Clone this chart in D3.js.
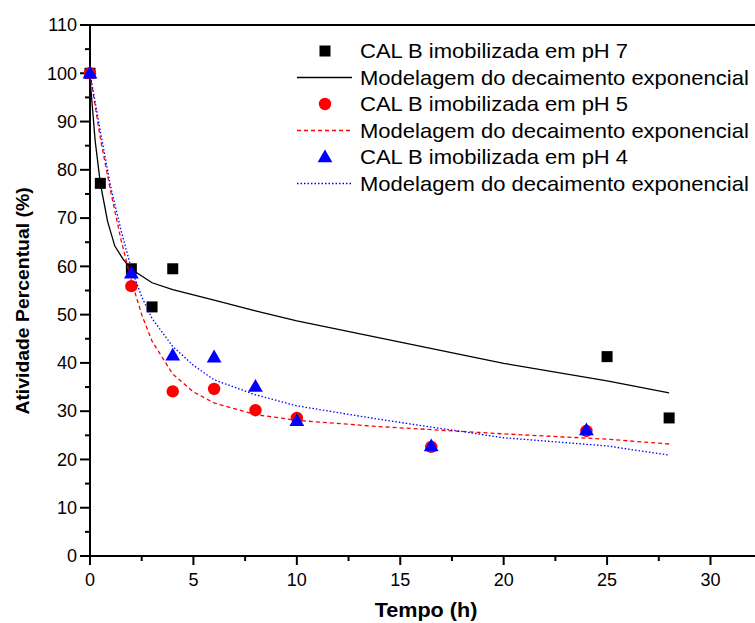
<!DOCTYPE html>
<html><head><meta charset="utf-8">
<script src="https://cdn.jsdelivr.net/npm/d3@7"></script>
<style>body{margin:0;background:#fff}svg{display:block}text{font-family:"Liberation Sans",Arial,sans-serif;fill:#000}</style>
</head><body><svg id="c" width="755" height="623"></svg>
<script>
// Data
const xTicks = [0,5,10,15,20,25,30];
const yTicks = [0,10,20,30,40,50,60,70,80,90,100,110];
const legendLabels = ["CAL B imobilizada em pH 7","Modelagem do decaimento exponencial","CAL B imobilizada em pH 5","Modelagem do decaimento exponencial","CAL B imobilizada em pH 4","Modelagem do decaimento exponencial"];
const ph7X = [0,0.5,2,3,4,25,28];
const ph7Y = [100,77.2,59.5,51.6,59.5,41.3,28.6];
const ph5X = [0,2,4,6,8,10,16.5,24];
const ph5Y = [100,55.9,34.1,34.6,30.2,28.6,22.6,25.9];
const ph4X = [0,2,4,6,8,10,16.5,24];
const ph4Y = [100,58.6,41.6,41.2,35.1,28.0,22.8,26.1];
const fit7X = [0,0.1,0.25,0.5,0.85,1.2,1.6,2,3,4,6,8,10,14,20,25,28];
const fit7Y = [99,93.8,86,77.2,69.3,64.2,61.5,59.4,56.6,55.2,53.0,50.8,48.7,45.2,39.9,36.3,33.8];
const fit5X = [0,0.5,1,1.5,2,2.5,3,4,5,6,8,10,14,20,25,28];
const fit5Y = [100,86.5,75.5,65.5,57,50,44.5,37.7,34,31.7,29.3,28.1,26.8,25.3,24.2,23.2];
const fit4X = [0,0.5,1,1.5,2,2.5,3,4,5,6,8,10,14,20,25,28];
const fit4Y = [100,88,76.5,67.5,59.5,53.7,49.2,43.4,39.5,36.5,33.4,31.1,28.3,24.5,22.8,20.9];

const svg = d3.select("#c");
const x = d3.scaleLinear().domain([0,32.2]).range([90,756]);
const y = d3.scaleLinear().domain([0,110]).range([556,25]);

// top border
svg.append("line").attr("x1",90).attr("x2",755).attr("y1",y(110)).attr("y2",y(110)).attr("stroke","#000").attr("stroke-width",2);

// x axis
const xMinor = d3.range(0,32.5,2.5);
const gx = svg.append("g").attr("transform",`translate(0,${y(0)})`);
gx.append("line").attr("x1",80).attr("x2",755).attr("stroke","#000").attr("stroke-width",2);
gx.selectAll(".mi").data(xMinor).join("line").attr("x1",d=>x(d)).attr("x2",d=>x(d)).attr("y1",0).attr("y2",d=>d%5===0?9:5).attr("stroke","#000").attr("stroke-width",2);
gx.selectAll(".tl").data(xTicks).join("text").attr("x",d=>x(d)).attr("y",30).attr("text-anchor","middle").attr("font-size",18).text(d=>d);

// y axis
const yMinor = d3.range(0,111,5);
const gy = svg.append("g").attr("transform",`translate(${x(0)},0)`);
gy.append("line").attr("y1",y(110)-1).attr("y2",y(0)+9).attr("stroke","#000").attr("stroke-width",2);
gy.selectAll(".mi").data(yMinor).join("line").attr("y1",d=>y(d)).attr("y2",d=>y(d)).attr("x1",0).attr("x2",d=>d%10===0?-10:-5).attr("stroke","#000").attr("stroke-width",2);
gy.selectAll(".tl").data(yTicks).join("text").attr("x",-13).attr("y",d=>y(d)).attr("dy","0.35em").attr("text-anchor","end").attr("font-size",18).text(d=>d);

// titles
svg.append("text").attr("transform","translate(426,617) scale(1.08,1)").attr("text-anchor","middle").attr("font-size",20).attr("font-weight","bold").text("Tempo (h)");
svg.append("text").attr("transform","translate(29,301) rotate(-90) scale(1.02,1)").attr("text-anchor","middle").attr("font-size",19).attr("font-weight","bold").text("Atividade Percentual (%)");

const line = d3.line().x(d=>x(d[0])).y(d=>y(d[1]));
const zip = (a,b)=>a.map((v,i)=>[v,b[i]]);

function squares(g,X,Y){
  g.selectAll(null).data(zip(X,Y)).join("rect").attr("x",d=>x(d[0])-5.5).attr("y",d=>y(d[1])-5.5).attr("width",11).attr("height",11).attr("fill","#000");
}
function circles(g,X,Y){
  g.selectAll(null).data(zip(X,Y)).join("circle").attr("cx",d=>x(d[0])).attr("cy",d=>y(d[1])).attr("r",6.2).attr("fill","#ff0000");
}
const tri = d3.symbol().type(d3.symbolTriangle).size(95);
function triangles(g,X,Y){
  g.selectAll(null).data(zip(X,Y)).join("path").attr("d",tri).attr("transform",d=>`translate(${x(d[0])},${y(d[1])+1})`).attr("fill","#0000ff");
}

const g7 = svg.append("g"); squares(g7,ph7X,ph7Y);
svg.append("path").attr("d",line(zip(fit7X,fit7Y))).attr("fill","none").attr("stroke","#000").attr("stroke-width",1.3);
const g5 = svg.append("g"); circles(g5,ph5X,ph5Y);
svg.append("path").attr("d",line(zip(fit5X,fit5Y))).attr("fill","none").attr("stroke","#ff0000").attr("stroke-width",1.3).attr("stroke-dasharray","4,3");
const g4 = svg.append("g"); triangles(g4,ph4X,ph4Y);
svg.append("path").attr("d",line(zip(fit4X,fit4Y))).attr("fill","none").attr("stroke","#0000ff").attr("stroke-width",1.3).attr("stroke-dasharray","1.5,2");

// legend
const lg = svg.append("g");
const ly0 = 51, ldy = 26.5;
legendLabels.forEach((t,i)=>{
  const yy = ly0 + i*ldy;
  lg.append("text").attr("transform",`translate(360,${yy}) scale(1.1,1)`).attr("dy","0.36em").attr("font-size",20).text(t);
});
lg.append("rect").attr("x",325-5.5).attr("y",ly0-5.5).attr("width",11).attr("height",11).attr("fill","#000");
lg.append("line").attr("x1",297).attr("x2",352).attr("y1",ly0+ldy).attr("y2",ly0+ldy).attr("stroke","#000").attr("stroke-width",1.3);
lg.append("circle").attr("cx",325).attr("cy",ly0+2*ldy).attr("r",6.2).attr("fill","#ff0000");
lg.append("line").attr("x1",297).attr("x2",352).attr("y1",ly0+3*ldy).attr("y2",ly0+3*ldy).attr("stroke","#ff0000").attr("stroke-width",1.3).attr("stroke-dasharray","4,3");
lg.append("path").attr("d",tri).attr("transform",`translate(325,${ly0+4*ldy+1})`).attr("fill","#0000ff");
lg.append("line").attr("x1",297).attr("x2",352).attr("y1",ly0+5*ldy).attr("y2",ly0+5*ldy).attr("stroke","#0000ff").attr("stroke-width",1.3).attr("stroke-dasharray","1.5,2");
</script></body></html>
